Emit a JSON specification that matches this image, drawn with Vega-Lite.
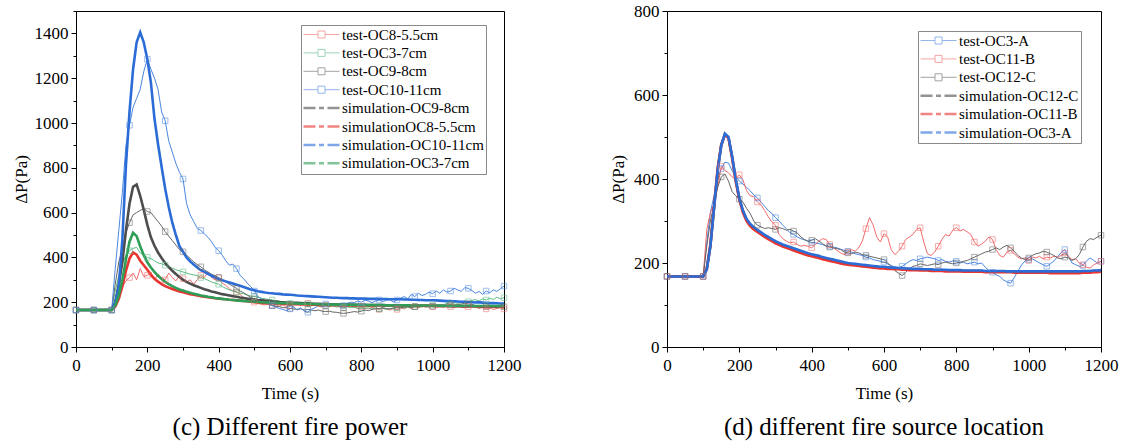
{
"$schema": "https://vega.github.io/schema/vega-lite/v6.json",
"padding": {"left": 11, "top": 1, "right": 5, "bottom": 2},
"spacing": 87,
"resolve": {"scale": {"color": "independent"}},
"config": {
  "font": "Liberation Serif",
  "view": {"stroke": "#000", "strokeWidth": 1},
  "axis": {"grid": false, "domainColor": "#000", "tickColor": "#000", "labelColor": "#000", "titleColor": "#000", "labelFontSize": 17, "titleFontSize": 17, "titleFontWeight": "normal", "labelFont": "Liberation Serif", "titleFont": "Liberation Serif", "labelPadding": 3, "labelOverlap": false, "labelFlush": false, "format": "d"},
  "legend": {"labelFont": "Liberation Serif", "labelFontSize": 15, "labelColor": "#000", "strokeColor": "#888", "fillColor": "#fff", "padding": 2, "rowPadding": 2.4, "symbolSize": 100, "symbolOffset": 11, "labelOffset": 13, "title": null},
  "title": {"font": "Liberation Serif", "fontSize": 25, "fontWeight": "normal", "color": "#000"}
},
"hconcat": [
{
  "width": 428, "height": 336,
  "title": {"text": "(c) Different fire power", "orient": "bottom", "offset": 14},
  "data": {"values": [
{"t":0,"tr":165,"tg":165,"tk":165,"tb":165,"sk":165,"sr":165,"sb":165,"sg":165},
{"t":10,"tr":165,"tg":165,"tk":165,"tb":165,"sk":165,"sr":165,"sb":165,"sg":165},
{"t":20,"tr":165,"tg":165,"tk":165,"tb":165,"sk":165,"sr":165,"sb":165,"sg":165},
{"t":30,"tr":165,"tg":165,"tk":165,"tb":165,"sk":165,"sr":165,"sb":165,"sg":165},
{"t":40,"tr":165,"tg":165,"tk":165,"tb":165,"sk":165,"sr":165,"sb":165,"sg":165},
{"t":50,"tr":165,"tg":165,"tk":165,"tb":165,"sk":165,"sr":165,"sb":165,"sg":165},
{"t":60,"tr":165,"tg":165,"tk":165,"tb":165,"sk":165,"sr":165,"sb":165,"sg":165},
{"t":70,"tr":165,"tg":165,"tk":165,"tb":165,"sk":165,"sr":165,"sb":165,"sg":165},
{"t":80,"tr":165,"tg":165,"tk":165,"tb":165,"sk":165,"sr":165,"sb":165,"sg":165},
{"t":90,"tr":165,"tg":165,"tk":165,"tb":165,"sk":165,"sr":165,"sb":165,"sg":165},
{"t":100,"tr":165,"tg":165,"tk":165,"tb":165,"sk":165,"sr":165,"sb":165,"sg":165},
{"t":110,"tr":200,"tg":250,"tk":280,"tb":350,"sk":195,"sr":180,"sb":200,"sg":185},
{"t":120,"tr":240,"tg":320,"tk":380,"tb":520,"sk":280,"sr":215,"sb":270,"sg":230},
{"t":130,"tr":270,"tg":370,"tk":440,"tb":690,"sk":380,"sr":270,"sb":480,"sg":300},
{"t":140,"tr":295,"tg":410,"tk":510,"tb":900,"sk":520,"sr":340,"sb":810,"sg":390},
{"t":150,"tr":310,"tg":430,"tk":555,"tb":990,"sk":640,"sr":395,"sb":1050,"sg":470},
{"t":160,"tr":330,"tg":440,"tk":590,"tb":1070,"sk":715,"sr":422,"sb":1240,"sg":510},
{"t":170,"tr":300,"tg":445,"tk":600,"tb":1110,"sk":725,"sr":412,"sb":1360,"sg":495},
{"t":180,"tr":350,"tg":420,"tk":610,"tb":1150,"sk":675,"sr":385,"sb":1405,"sg":450},
{"t":190,"tr":315,"tg":410,"tk":618,"tb":1230,"sk":612,"sr":365,"sb":1360,"sg":410},
{"t":200,"tr":320,"tg":400,"tk":605,"tb":1285,"sk":545,"sr":345,"sb":1285,"sg":378},
{"t":210,"tr":335,"tg":395,"tk":600,"tb":1240,"sk":490,"sr":322,"sb":1180,"sg":355},
{"t":220,"tr":300,"tg":385,"tk":580,"tb":1200,"sk":452,"sr":305,"sb":1020,"sg":335},
{"t":230,"tr":325,"tg":375,"tk":560,"tb":1150,"sk":422,"sr":292,"sb":905,"sg":318},
{"t":240,"tr":310,"tg":372,"tk":540,"tb":1050,"sk":397,"sr":281,"sb":805,"sg":303},
{"t":250,"tr":300,"tg":365,"tk":515,"tb":1010,"sk":375,"sr":272,"sb":707,"sg":291},
{"t":260,"tr":330,"tg":360,"tk":495,"tb":920,"sk":357,"sr":265,"sb":625,"sg":281},
{"t":270,"tr":310,"tg":352,"tk":475,"tb":870,"sk":340,"sr":259,"sb":555,"sg":272},
{"t":280,"tr":295,"tg":345,"tk":455,"tb":820,"sk":326,"sr":253,"sb":500,"sg":264},
{"t":290,"tr":320,"tg":340,"tk":435,"tb":780,"sk":312,"sr":248,"sb":450,"sg":257},
{"t":300,"tr":305,"tg":335,"tk":425,"tb":750,"sk":300,"sr":244,"sb":425,"sg":252},
{"t":310,"tr":290,"tg":330,"tk":410,"tb":640,"sk":291,"sr":240,"sb":400,"sg":247},
{"t":320,"tr":300,"tg":325,"tk":395,"tb":590,"sk":283,"sr":236,"sb":382,"sg":242},
{"t":330,"tr":280,"tg":322,"tk":380,"tb":560,"sk":276,"sr":233,"sb":368,"sg":238},
{"t":340,"tr":300,"tg":318,"tk":368,"tb":530,"sk":270,"sr":230,"sb":355,"sg":234},
{"t":350,"tr":320,"tg":310,"tk":358,"tb":520,"sk":264,"sr":227,"sb":343,"sg":230},
{"t":360,"tr":310,"tg":305,"tk":345,"tb":505,"sk":258,"sr":225,"sb":335,"sg":227},
{"t":370,"tr":335,"tg":298,"tk":335,"tb":490,"sk":253,"sr":222,"sb":326,"sg":224},
{"t":380,"tr":310,"tg":290,"tk":325,"tb":470,"sk":248,"sr":220,"sb":318,"sg":222},
{"t":390,"tr":300,"tg":285,"tk":318,"tb":445,"sk":244,"sr":218,"sb":310,"sg":219},
{"t":400,"tr":310,"tg":280,"tk":310,"tb":430,"sk":240,"sr":216,"sb":303,"sg":217},
{"t":410,"tr":285,"tg":270,"tk":300,"tb":410,"sk":236,"sr":214,"sb":298,"sg":215},
{"t":420,"tr":275,"tg":262,"tk":290,"tb":385,"sk":233,"sr":213,"sb":293,"sg":213},
{"t":430,"tr":260,"tg":255,"tk":280,"tb":365,"sk":230,"sr":211,"sb":288,"sg":211},
{"t":440,"tr":250,"tg":250,"tk":272,"tb":370,"sk":227,"sr":210,"sb":283,"sg":210},
{"t":450,"tr":245,"tg":245,"tk":262,"tb":350,"sk":224,"sr":209,"sb":278,"sg":208},
{"t":460,"tr":235,"tg":240,"tk":250,"tb":320,"sk":221,"sr":207,"sb":273,"sg":207},
{"t":470,"tr":220,"tg":238,"tk":242,"tb":305,"sk":219,"sr":205,"sb":268,"sg":206},
{"t":480,"tr":215,"tg":232,"tk":232,"tb":285,"sk":216,"sr":204,"sb":262,"sg":204},
{"t":490,"tr":205,"tg":228,"tk":222,"tb":270,"sk":214,"sr":202,"sb":257,"sg":203},
{"t":500,"tr":200,"tg":225,"tk":215,"tb":250,"sk":212,"sr":200,"sb":253,"sg":202},
{"t":510,"tr":195,"tg":222,"tk":208,"tb":225,"sk":210,"sr":199,"sb":249,"sg":201},
{"t":520,"tr":190,"tg":218,"tk":200,"tb":215,"sk":209,"sr":198,"sb":246,"sg":200},
{"t":530,"tr":188,"tg":215,"tk":195,"tb":205,"sk":207,"sr":197,"sb":243,"sg":199},
{"t":540,"tr":195,"tg":212,"tk":190,"tb":195,"sk":206,"sr":196,"sb":241,"sg":198},
{"t":550,"tr":185,"tg":210,"tk":185,"tb":185,"sk":204,"sr":195,"sb":240,"sg":197},
{"t":560,"tr":190,"tg":206,"tk":182,"tb":178,"sk":203,"sr":194,"sb":238,"sg":197},
{"t":570,"tr":182,"tg":205,"tk":180,"tb":172,"sk":201,"sr":194,"sb":237,"sg":196},
{"t":580,"tr":188,"tg":200,"tk":176,"tb":168,"sk":200,"sr":193,"sb":235,"sg":196},
{"t":590,"tr":180,"tg":198,"tk":175,"tb":162,"sk":199,"sr":192,"sb":234,"sg":195},
{"t":600,"tr":185,"tg":195,"tk":172,"tb":170,"sk":198,"sr":192,"sb":233,"sg":195},
{"t":610,"tr":192,"tg":193,"tk":170,"tb":180,"sk":197,"sr":191,"sb":232,"sg":194},
{"t":620,"tr":198,"tg":190,"tk":168,"tb":165,"sk":197,"sr":191,"sb":230,"sg":194},
{"t":630,"tr":190,"tg":195,"tk":170,"tb":175,"sk":196,"sr":190,"sb":229,"sg":193},
{"t":640,"tr":200,"tg":188,"tk":165,"tb":160,"sk":195,"sr":190,"sb":228,"sg":193},
{"t":650,"tr":195,"tg":192,"tk":168,"tb":155,"sk":195,"sr":189,"sb":227,"sg":192},
{"t":660,"tr":185,"tg":185,"tk":165,"tb":168,"sk":194,"sr":189,"sb":226,"sg":192},
{"t":670,"tr":190,"tg":190,"tk":162,"tb":175,"sk":193,"sr":189,"sb":225,"sg":191},
{"t":680,"tr":182,"tg":186,"tk":165,"tb":185,"sk":193,"sr":188,"sb":224,"sg":191},
{"t":690,"tr":178,"tg":182,"tk":160,"tb":182,"sk":192,"sr":188,"sb":223,"sg":190},
{"t":700,"tr":185,"tg":185,"tk":158,"tb":192,"sk":192,"sr":188,"sb":222,"sg":190},
{"t":710,"tr":180,"tg":180,"tk":160,"tb":185,"sk":191,"sr":187,"sb":221,"sg":190},
{"t":720,"tr":190,"tg":184,"tk":156,"tb":195,"sk":191,"sr":187,"sb":220,"sg":189},
{"t":730,"tr":185,"tg":178,"tk":155,"tb":190,"sk":190,"sr":187,"sb":220,"sg":189},
{"t":740,"tr":178,"tg":182,"tk":152,"tb":180,"sk":190,"sr":187,"sb":219,"sg":189},
{"t":750,"tr":175,"tg":176,"tk":150,"tb":185,"sk":189,"sr":186,"sb":218,"sg":188},
{"t":760,"tr":180,"tg":180,"tk":152,"tb":195,"sk":189,"sr":186,"sb":218,"sg":188},
{"t":770,"tr":185,"tg":175,"tk":155,"tb":200,"sk":189,"sr":186,"sb":217,"sg":188},
{"t":780,"tr":178,"tg":178,"tk":158,"tb":198,"sk":188,"sr":186,"sb":217,"sg":188},
{"t":790,"tr":172,"tg":174,"tk":156,"tb":205,"sk":188,"sr":186,"sb":216,"sg":188},
{"t":800,"tr":180,"tg":176,"tk":160,"tb":200,"sk":188,"sr":186,"sb":216,"sg":188},
{"t":810,"tr":175,"tg":172,"tk":165,"tb":210,"sk":188,"sr":185,"sb":216,"sg":187},
{"t":820,"tr":170,"tg":175,"tk":162,"tb":205,"sk":187,"sr":185,"sb":215,"sg":187},
{"t":830,"tr":178,"tg":170,"tk":168,"tb":198,"sk":187,"sr":185,"sb":215,"sg":187},
{"t":840,"tr":172,"tg":174,"tk":170,"tb":205,"sk":187,"sr":185,"sb":215,"sg":187},
{"t":850,"tr":168,"tg":170,"tk":172,"tb":210,"sk":187,"sr":185,"sb":214,"sg":187},
{"t":860,"tr":175,"tg":172,"tk":175,"tb":203,"sk":187,"sr":185,"sb":214,"sg":187},
{"t":870,"tr":170,"tg":168,"tk":172,"tb":208,"sk":186,"sr":185,"sb":214,"sg":186},
{"t":880,"tr":165,"tg":172,"tk":170,"tb":212,"sk":186,"sr":185,"sb":213,"sg":186},
{"t":890,"tr":172,"tg":170,"tk":175,"tb":200,"sk":186,"sr":184,"sb":213,"sg":186},
{"t":900,"tr":168,"tg":175,"tk":178,"tb":210,"sk":186,"sr":184,"sb":213,"sg":186},
{"t":910,"tr":175,"tg":178,"tk":175,"tb":218,"sk":186,"sr":184,"sb":213,"sg":186},
{"t":920,"tr":170,"tg":174,"tk":178,"tb":225,"sk":185,"sr":184,"sb":212,"sg":186},
{"t":930,"tr":178,"tg":178,"tk":180,"tb":215,"sk":185,"sr":184,"sb":212,"sg":186},
{"t":940,"tr":172,"tg":175,"tk":176,"tb":235,"sk":185,"sr":184,"sb":211,"sg":185},
{"t":950,"tr":180,"tg":180,"tk":180,"tb":225,"sk":185,"sr":184,"sb":211,"sg":185},
{"t":960,"tr":175,"tg":182,"tk":178,"tb":240,"sk":185,"sr":184,"sb":210,"sg":185},
{"t":970,"tr":182,"tg":178,"tk":182,"tb":230,"sk":184,"sr":184,"sb":210,"sg":185},
{"t":980,"tr":178,"tg":185,"tk":180,"tb":235,"sk":184,"sr":184,"sb":209,"sg":185},
{"t":990,"tr":185,"tg":182,"tk":178,"tb":245,"sk":184,"sr":184,"sb":209,"sg":185},
{"t":1000,"tr":180,"tg":188,"tk":182,"tb":238,"sk":184,"sr":184,"sb":209,"sg":185},
{"t":1010,"tr":176,"tg":185,"tk":185,"tb":250,"sk":184,"sr":183,"sb":208,"sg":185},
{"t":1020,"tr":182,"tg":190,"tk":180,"tb":240,"sk":183,"sr":183,"sb":207,"sg":184},
{"t":1030,"tr":178,"tg":188,"tk":182,"tb":255,"sk":183,"sr":183,"sb":206,"sg":184},
{"t":1040,"tr":185,"tg":195,"tk":186,"tb":245,"sk":183,"sr":183,"sb":205,"sg":184},
{"t":1050,"tr":180,"tg":192,"tk":188,"tb":250,"sk":183,"sr":183,"sb":205,"sg":184},
{"t":1060,"tr":176,"tg":198,"tk":185,"tb":262,"sk":183,"sr":183,"sb":204,"sg":184},
{"t":1070,"tr":182,"tg":195,"tk":190,"tb":255,"sk":182,"sr":183,"sb":203,"sg":184},
{"t":1080,"tr":178,"tg":200,"tk":192,"tb":248,"sk":182,"sr":183,"sb":202,"sg":184},
{"t":1090,"tr":175,"tg":205,"tk":195,"tb":265,"sk":182,"sr":182,"sb":202,"sg":184},
{"t":1100,"tr":180,"tg":202,"tk":192,"tb":262,"sk":182,"sr":182,"sb":201,"sg":183},
{"t":1110,"tr":185,"tg":208,"tk":190,"tb":252,"sk":182,"sr":182,"sb":200,"sg":183},
{"t":1120,"tr":178,"tg":212,"tk":185,"tb":240,"sk":182,"sr":182,"sb":199,"sg":183},
{"t":1130,"tr":172,"tg":205,"tk":182,"tb":248,"sk":181,"sr":182,"sb":199,"sg":183},
{"t":1140,"tr":176,"tg":215,"tk":178,"tb":235,"sk":181,"sr":182,"sb":198,"sg":183},
{"t":1150,"tr":170,"tg":210,"tk":180,"tb":250,"sk":181,"sr":182,"sb":197,"sg":183},
{"t":1160,"tr":174,"tg":218,"tk":176,"tb":242,"sk":181,"sr":182,"sb":196,"sg":183},
{"t":1170,"tr":168,"tg":212,"tk":178,"tb":255,"sk":181,"sr":182,"sb":196,"sg":183},
{"t":1180,"tr":172,"tg":222,"tk":175,"tb":248,"sk":181,"sr":182,"sb":195,"sg":183},
{"t":1190,"tr":175,"tg":215,"tk":178,"tb":260,"sk":181,"sr":182,"sb":194,"sg":183},
{"t":1200,"tr":170,"tg":220,"tk":180,"tb":272,"sk":180,"sr":182,"sb":194,"sg":183}
  ]},
  "transform": [
    {"fold": ["tr","tg","tk","tb","sk","sr","sb","sg"], "as": ["s","v"]},
    {"lookup": "s", "from": {"data": {"values": [
      {"s":"tr","name":"test-OC8-5.5cm"},{"s":"tg","name":"test-OC3-7cm"},{"s":"tk","name":"test-OC9-8cm"},{"s":"tb","name":"test-OC10-11cm"},
      {"s":"sk","name":"simulation-OC9-8cm"},{"s":"sr","name":"simulationOC8-5.5cm"},{"s":"sb","name":"simulation-OC10-11cm"},{"s":"sg","name":"simulation-OC3-7cm"}]}, "key": "s", "fields": ["name"]}}
  ],
  "encoding": {
    "x": {"field": "t", "type": "quantitative", "scale": {"domain": [0,1200], "nice": false},
      "axis": {"title": "Time (s)", "titleFontWeight": "normal", "titlePadding": 12, "labelPadding": 5, "values": [0,100,200,300,400,500,600,700,800,900,1000,1100,1200],
        "labelExpr": "datum.value % 200 === 0 ? datum.label : ''",
        "tickSize": {"condition": {"test": "datum.value % 200 === 0", "value": 5}, "value": 3}}},
    "y": {"field": "v", "type": "quantitative", "scale": {"domain": [0,1500], "nice": false},
      "axis": {"title": "ΔP(Pa)", "titleFontWeight": "normal", "titlePadding": 4, "values": [0,100,200,300,400,500,600,700,800,900,1000,1100,1200,1300,1400,1500],
        "labelExpr": "datum.value % 200 === 0 ? datum.label : ''",
        "tickSize": {"condition": {"test": "datum.value % 200 === 0", "value": 5}, "value": 3}}},
    "color": {"field": "name", "type": "nominal",
      "scale": {"domain": ["test-OC8-5.5cm","test-OC3-7cm","test-OC9-8cm","test-OC10-11cm","simulation-OC9-8cm","simulationOC8-5.5cm","simulation-OC10-11cm","simulation-OC3-7cm"],
                "range": ["#f26b6b","#5dbb85","#666666","#4a86e0","#4d4d4d","#e8352f","#2b6cd6","#2e9d57"]},
      "legend": {"orient": "none", "legendX": 225, "legendY": 14,
        "encode": {"symbols": {"update": {
          "shape": {"signal": "test(/^test/, datum.value) ? 'M-3.6,0L-0.7,0M0.7,0L3.6,0M-0.7,-0.7L0.7,-0.7L0.7,0.7L-0.7,0.7Z' : 'M-3.6,0L-1.2,0M-0.5,0L0.5,0M1.2,0L3.6,0'"},
          "strokeWidth": {"signal": "test(/^test/, datum.value) ? 1 : 2.5"},
          "fill": {"value": "#fff"}, "opacity": {"value": 0.6}}}}}}
  },
  "layer": [
    {"transform": [{"filter": "test(/^test/, datum.name)"}], "mark": {"type": "line", "strokeWidth": 1}},
    {"transform": [{"filter": "test(/^sim/, datum.name)"}], "mark": {"type": "line", "strokeWidth": 2.6}},
    {"transform": [{"filter": "test(/^test/, datum.name) && datum.t % 50 === 0"}], "mark": {"type": "point", "shape": "square", "filled": false, "size": 30, "strokeWidth": 1, "opacity": 0.55}}
  ]
},
{
  "width": 434, "height": 336,
  "title": {"text": "(d) different fire source location", "orient": "bottom", "offset": 14},
  "data": {"values": [
{"t":0,"tb":168,"tr":168,"tk":168,"sk":168,"sr":168,"sb":168},
{"t":10,"tb":168,"tr":168,"tk":168,"sk":168,"sr":168,"sb":168},
{"t":20,"tb":168,"tr":168,"tk":168,"sk":168,"sr":168,"sb":168},
{"t":30,"tb":168,"tr":168,"tk":168,"sk":168,"sr":168,"sb":168},
{"t":40,"tb":168,"tr":168,"tk":168,"sk":168,"sr":168,"sb":168},
{"t":50,"tb":168,"tr":168,"tk":168,"sk":168,"sr":168,"sb":168},
{"t":60,"tb":168,"tr":168,"tk":168,"sk":168,"sr":168,"sb":168},
{"t":70,"tb":168,"tr":168,"tk":168,"sk":168,"sr":168,"sb":168},
{"t":80,"tb":168,"tr":168,"tk":168,"sk":168,"sr":168,"sb":168},
{"t":90,"tb":168,"tr":168,"tk":168,"sk":168,"sr":168,"sb":168},
{"t":100,"tb":168,"tr":168,"tk":168,"sk":168,"sr":168,"sb":168},
{"t":110,"tb":250,"tr":280,"tk":240,"sk":185,"sr":188,"sb":185},
{"t":120,"tb":320,"tr":320,"tk":300,"sk":240,"sr":245,"sb":240},
{"t":130,"tb":360,"tr":340,"tk":340,"sk":330,"sr":335,"sb":330},
{"t":140,"tb":400,"tr":380,"tk":380,"sk":420,"sr":425,"sb":420},
{"t":150,"tb":425,"tr":430,"tk":405,"sk":480,"sr":482,"sb":480},
{"t":160,"tb":440,"tr":420,"tk":412,"sk":506,"sr":505,"sb":508},
{"t":170,"tb":438,"tr":415,"tk":395,"sk":498,"sr":498,"sb":500},
{"t":180,"tb":420,"tr":405,"tk":370,"sk":453,"sr":450,"sb":455},
{"t":190,"tb":405,"tr":400,"tk":360,"sk":398,"sr":395,"sb":400},
{"t":200,"tb":395,"tr":410,"tk":352,"sk":353,"sr":350,"sb":355},
{"t":210,"tb":388,"tr":398,"tk":345,"sk":323,"sr":320,"sb":325},
{"t":220,"tb":380,"tr":372,"tk":330,"sk":303,"sr":300,"sb":305},
{"t":230,"tb":372,"tr":360,"tk":318,"sk":291,"sr":288,"sb":293},
{"t":240,"tb":362,"tr":358,"tk":300,"sk":283,"sr":280,"sb":285},
{"t":250,"tb":355,"tr":345,"tk":290,"sk":277,"sr":274,"sb":279},
{"t":260,"tb":345,"tr":338,"tk":286,"sk":271,"sr":268,"sb":273},
{"t":270,"tb":335,"tr":325,"tk":282,"sk":265,"sr":262,"sb":267},
{"t":280,"tb":325,"tr":310,"tk":284,"sk":260,"sr":257,"sb":262},
{"t":290,"tb":318,"tr":298,"tk":282,"sk":255,"sr":252,"sb":257},
{"t":300,"tb":308,"tr":290,"tk":280,"sk":250,"sr":247,"sb":252},
{"t":310,"tb":300,"tr":268,"tk":284,"sk":246,"sr":243,"sb":248},
{"t":320,"tb":290,"tr":258,"tk":282,"sk":242,"sr":239,"sb":244},
{"t":330,"tb":282,"tr":252,"tk":278,"sk":239,"sr":236,"sb":241},
{"t":340,"tb":272,"tr":248,"tk":280,"sk":236,"sr":233,"sb":238},
{"t":350,"tb":268,"tr":250,"tk":276,"sk":233,"sr":230,"sb":235},
{"t":360,"tb":262,"tr":244,"tk":272,"sk":230,"sr":227,"sb":232},
{"t":370,"tb":258,"tr":240,"tk":262,"sk":227,"sr":224,"sb":229},
{"t":380,"tb":255,"tr":242,"tk":256,"sk":224,"sr":221,"sb":226},
{"t":390,"tb":252,"tr":240,"tk":252,"sk":221,"sr":218,"sb":223},
{"t":400,"tb":249,"tr":236,"tk":254,"sk":219,"sr":216,"sb":221},
{"t":410,"tb":248,"tr":244,"tk":258,"sk":217,"sr":214,"sb":219},
{"t":420,"tb":246,"tr":252,"tk":252,"sk":215,"sr":212,"sb":217},
{"t":430,"tb":244,"tr":258,"tk":246,"sk":212,"sr":209,"sb":214},
{"t":440,"tb":241,"tr":256,"tk":240,"sk":210,"sr":207,"sb":212},
{"t":450,"tb":240,"tr":244,"tk":238,"sk":208,"sr":205,"sb":210},
{"t":460,"tb":238,"tr":236,"tk":236,"sk":206,"sr":203,"sb":208},
{"t":470,"tb":236,"tr":230,"tk":234,"sk":204,"sr":201,"sb":206},
{"t":480,"tb":233,"tr":224,"tk":232,"sk":202,"sr":199,"sb":204},
{"t":490,"tb":230,"tr":220,"tk":226,"sk":200,"sr":197,"sb":202},
{"t":500,"tb":228,"tr":226,"tk":224,"sk":198,"sr":196,"sb":200},
{"t":510,"tb":226,"tr":232,"tk":222,"sk":197,"sr":195,"sb":199},
{"t":520,"tb":222,"tr":228,"tk":226,"sk":196,"sr":194,"sb":198},
{"t":530,"tb":220,"tr":236,"tk":224,"sk":195,"sr":193,"sb":197},
{"t":540,"tb":218,"tr":252,"tk":220,"sk":194,"sr":192,"sb":196},
{"t":550,"tb":214,"tr":282,"tk":218,"sk":193,"sr":191,"sb":195},
{"t":560,"tb":212,"tr":308,"tk":216,"sk":192,"sr":190,"sb":194},
{"t":570,"tb":208,"tr":290,"tk":214,"sk":191,"sr":189,"sb":193},
{"t":580,"tb":206,"tr":262,"tk":212,"sk":190,"sr":188,"sb":192},
{"t":590,"tb":204,"tr":250,"tk":210,"sk":190,"sr":187,"sb":191},
{"t":600,"tb":202,"tr":270,"tk":208,"sk":189,"sr":187,"sb":191},
{"t":610,"tb":198,"tr":262,"tk":200,"sk":188,"sr":186,"sb":190},
{"t":620,"tb":194,"tr":232,"tk":192,"sk":188,"sr":186,"sb":189},
{"t":630,"tb":190,"tr":220,"tk":182,"sk":187,"sr":185,"sb":189},
{"t":640,"tb":188,"tr":228,"tk":176,"sk":187,"sr":185,"sb":188},
{"t":650,"tb":192,"tr":240,"tk":170,"sk":186,"sr":184,"sb":188},
{"t":660,"tb":198,"tr":256,"tk":178,"sk":186,"sr":184,"sb":187},
{"t":670,"tb":204,"tr":262,"tk":186,"sk":185,"sr":183,"sb":187},
{"t":680,"tb":208,"tr":268,"tk":192,"sk":185,"sr":183,"sb":186},
{"t":690,"tb":206,"tr":280,"tk":194,"sk":185,"sr":183,"sb":186},
{"t":700,"tb":210,"tr":284,"tk":198,"sk":184,"sr":182,"sb":186},
{"t":710,"tb":212,"tr":250,"tk":196,"sk":184,"sr":182,"sb":185},
{"t":720,"tb":214,"tr":222,"tk":194,"sk":184,"sr":182,"sb":185},
{"t":730,"tb":212,"tr":218,"tk":196,"sk":183,"sr":181,"sb":185},
{"t":740,"tb":210,"tr":226,"tk":198,"sk":183,"sr":181,"sb":184},
{"t":750,"tb":206,"tr":240,"tk":196,"sk":183,"sr":181,"sb":184},
{"t":760,"tb":208,"tr":256,"tk":200,"sk":183,"sr":181,"sb":184},
{"t":770,"tb":204,"tr":268,"tk":202,"sk":182,"sr":180,"sb":184},
{"t":780,"tb":202,"tr":264,"tk":200,"sk":182,"sr":180,"sb":183},
{"t":790,"tb":205,"tr":278,"tk":198,"sk":182,"sr":180,"sb":183},
{"t":800,"tb":204,"tr":284,"tk":200,"sk":182,"sr":180,"sb":183},
{"t":810,"tb":200,"tr":276,"tk":202,"sk":182,"sr":180,"sb":183},
{"t":820,"tb":202,"tr":280,"tk":204,"sk":181,"sr":179,"sb":182},
{"t":830,"tb":198,"tr":274,"tk":206,"sk":181,"sr":179,"sb":182},
{"t":840,"tb":200,"tr":268,"tk":210,"sk":181,"sr":179,"sb":182},
{"t":850,"tb":202,"tr":250,"tk":214,"sk":181,"sr":179,"sb":182},
{"t":860,"tb":198,"tr":240,"tk":218,"sk":181,"sr":179,"sb":182},
{"t":870,"tb":200,"tr":245,"tk":222,"sk":181,"sr":179,"sb":182},
{"t":880,"tb":190,"tr":252,"tk":226,"sk":180,"sr":178,"sb":181},
{"t":890,"tb":182,"tr":262,"tk":228,"sk":180,"sr":178,"sb":181},
{"t":900,"tb":178,"tr":256,"tk":232,"sk":180,"sr":178,"sb":181},
{"t":910,"tb":172,"tr":232,"tk":236,"sk":180,"sr":178,"sb":181},
{"t":920,"tb":168,"tr":218,"tk":232,"sk":180,"sr":178,"sb":181},
{"t":930,"tb":160,"tr":214,"tk":238,"sk":180,"sr":178,"sb":181},
{"t":940,"tb":155,"tr":226,"tk":242,"sk":180,"sr":178,"sb":180},
{"t":950,"tb":152,"tr":230,"tk":236,"sk":179,"sr":178,"sb":180},
{"t":960,"tb":165,"tr":222,"tk":228,"sk":179,"sr":177,"sb":180},
{"t":970,"tb":180,"tr":214,"tk":218,"sk":179,"sr":177,"sb":180},
{"t":980,"tb":195,"tr":210,"tk":212,"sk":179,"sr":177,"sb":180},
{"t":990,"tb":205,"tr":212,"tk":208,"sk":179,"sr":177,"sb":180},
{"t":1000,"tb":208,"tr":206,"tk":212,"sk":179,"sr":177,"sb":180},
{"t":1010,"tb":210,"tr":214,"tk":218,"sk":179,"sr":177,"sb":180},
{"t":1020,"tb":205,"tr":212,"tk":222,"sk":179,"sr":177,"sb":180},
{"t":1030,"tb":200,"tr":216,"tk":224,"sk":179,"sr":177,"sb":180},
{"t":1040,"tb":196,"tr":210,"tk":228,"sk":179,"sr":177,"sb":180},
{"t":1050,"tb":192,"tr":214,"tk":226,"sk":179,"sr":177,"sb":180},
{"t":1060,"tb":198,"tr":212,"tk":222,"sk":179,"sr":176,"sb":180},
{"t":1070,"tb":205,"tr":216,"tk":218,"sk":179,"sr":176,"sb":180},
{"t":1080,"tb":215,"tr":214,"tk":212,"sk":179,"sr":176,"sb":180},
{"t":1090,"tb":225,"tr":218,"tk":210,"sk":179,"sr":176,"sb":180},
{"t":1100,"tb":232,"tr":224,"tk":214,"sk":179,"sr":176,"sb":180},
{"t":1110,"tb":215,"tr":216,"tk":212,"sk":179,"sr":176,"sb":180},
{"t":1120,"tb":200,"tr":208,"tk":206,"sk":179,"sr":176,"sb":180},
{"t":1130,"tb":196,"tr":210,"tk":210,"sk":179,"sr":176,"sb":180},
{"t":1140,"tb":192,"tr":200,"tk":220,"sk":179,"sr":176,"sb":180},
{"t":1150,"tb":194,"tr":196,"tk":238,"sk":180,"sr":177,"sb":181},
{"t":1160,"tb":205,"tr":190,"tk":252,"sk":180,"sr":177,"sb":181},
{"t":1170,"tb":212,"tr":188,"tk":258,"sk":180,"sr":177,"sb":181},
{"t":1180,"tb":206,"tr":196,"tk":256,"sk":181,"sr":178,"sb":182},
{"t":1190,"tb":200,"tr":200,"tk":262,"sk":181,"sr":178,"sb":182},
{"t":1200,"tb":204,"tr":204,"tk":266,"sk":182,"sr":179,"sb":183}
  ]},
  "transform": [
    {"fold": ["tb","tr","tk","sk","sr","sb"], "as": ["s","v"]},
    {"lookup": "s", "from": {"data": {"values": [
      {"s":"tb","name":"test-OC3-A"},{"s":"tr","name":"test-OC11-B"},{"s":"tk","name":"test-OC12-C"},
      {"s":"sk","name":"simulation-OC12-C"},{"s":"sr","name":"simulation-OC11-B"},{"s":"sb","name":"simulation-OC3-A"}]}, "key": "s", "fields": ["name"]}}
  ],
  "encoding": {
    "x": {"field": "t", "type": "quantitative", "scale": {"domain": [0,1200], "nice": false},
      "axis": {"title": "Time (s)", "titleFontWeight": "normal", "titlePadding": 12, "labelPadding": 5, "values": [0,100,200,300,400,500,600,700,800,900,1000,1100,1200],
        "labelExpr": "datum.value % 200 === 0 ? datum.label : ''",
        "tickSize": {"condition": {"test": "datum.value % 200 === 0", "value": 5}, "value": 3}}},
    "y": {"field": "v", "type": "quantitative", "scale": {"domain": [0,800], "nice": false},
      "axis": {"title": "ΔP(Pa)", "titleFontWeight": "normal", "titlePadding": 6, "values": [0,100,200,300,400,500,600,700,800],
        "labelExpr": "datum.value % 200 === 0 ? datum.label : ''",
        "tickSize": {"condition": {"test": "datum.value % 200 === 0", "value": 5}, "value": 3}}},
    "color": {"field": "name", "type": "nominal",
      "scale": {"domain": ["test-OC3-A","test-OC11-B","test-OC12-C","simulation-OC12-C","simulation-OC11-B","simulation-OC3-A"],
                "range": ["#4a86e0","#f26b6b","#666666","#4d4d4d","#e8352f","#2b6cd6"]},
      "legend": {"orient": "none", "legendX": 251, "legendY": 20,
        "encode": {"symbols": {"update": {
          "shape": {"signal": "test(/^test/, datum.value) ? 'M-3.6,0L-0.7,0M0.7,0L3.6,0M-0.7,-0.7L0.7,-0.7L0.7,0.7L-0.7,0.7Z' : 'M-3.6,0L-1.2,0M-0.5,0L0.5,0M1.2,0L3.6,0'"},
          "strokeWidth": {"signal": "test(/^test/, datum.value) ? 1 : 2.5"},
          "fill": {"value": "#fff"}, "opacity": {"value": 0.6}}}}}}
  },
  "layer": [
    {"transform": [{"filter": "test(/^test/, datum.name)"}], "mark": {"type": "line", "strokeWidth": 1}},
    {"transform": [{"filter": "test(/^sim/, datum.name)"}], "mark": {"type": "line", "strokeWidth": 2.6}},
    {"transform": [{"filter": "test(/^test/, datum.name) && datum.t % 50 === 0"}], "mark": {"type": "point", "shape": "square", "filled": false, "size": 30, "strokeWidth": 1, "opacity": 0.55}}
  ]
}
]
}
